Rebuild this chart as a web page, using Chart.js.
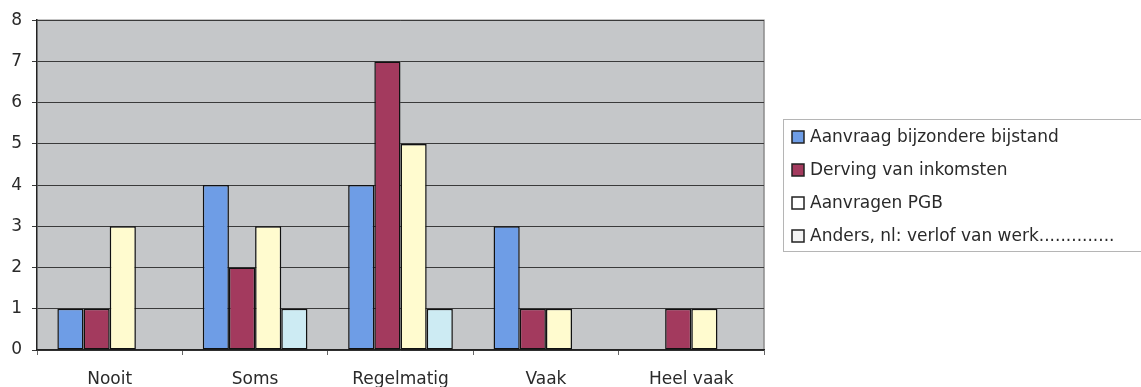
<!DOCTYPE html>
<html><head><meta charset="utf-8">
<script src="https://cdn.jsdelivr.net/npm/chart.js@4"></script>
<style>html,body{margin:0;padding:0;background:#fff;}#wrap{width:1141px;height:387px;position:relative;}</style>
</head><body><div id="wrap"><canvas id="c" width="1141" height="387"></canvas></div>
<script>
const categories = ["Nooit", "Soms", "Regelmatig", "Vaak", "Heel vaak"];
const seriesNames = ["Aanvraag bijzondere bijstand", "Derving van inkomsten", "Aanvragen PGB", "Anders, nl: verlof van werk.............."];
const bijstand = [1, 4, 4, 3, 0];
const derving = [1, 2, 7, 1, 1];
const pgb = [3, 3, 5, 1, 1];
const anders = [0, 1, 1, 0, 0];
const yTicks = [0, 1, 2, 3, 4, 5, 6, 7, 8];

const colors = ["#6e9de6", "#a33a5e", "#fffbcf", "#cdebf3"];
const legendFill = ["#6e9de6", "#a33a5e", "#ffffff", "#f4f4f4"];
const FONT = "'DejaVu Sans', sans-serif";

const bgPlugin = {
  id: 'bg',
  beforeDraw(chart) {
    const {ctx, chartArea: a} = chart;
    ctx.save();
    ctx.fillStyle = '#c5c7c9';
    ctx.fillRect(a.left, a.top, a.right - a.left, a.bottom - a.top);
    ctx.strokeStyle = '#8c8c8c';
    ctx.lineWidth = 1.5;
    ctx.beginPath();
    ctx.moveTo(a.left, a.top); ctx.lineTo(a.right, a.top); ctx.lineTo(a.right, a.bottom);
    ctx.stroke();
    ctx.restore();
  },
  afterDraw(chart) {
    const ctx = chart.ctx;
    const x0 = 783, y0 = 119, h = 132;
    ctx.save();
    ctx.fillStyle = '#ffffff';
    ctx.fillRect(x0, y0, 1141 - x0 + 5, h);
    ctx.strokeStyle = '#b5b5b5';
    ctx.lineWidth = 1;
    ctx.strokeRect(x0 + 0.5, y0 + 0.5, 1141 - x0 + 5, h);
    ctx.font = '17px ' + FONT;
    ctx.textBaseline = 'middle';
    chart.data.datasets.forEach((ds, i) => {
      const cy = 137 + i * 33;
      ctx.fillStyle = legendFill[i];
      ctx.fillRect(792, cy - 6, 12, 12);
      ctx.strokeStyle = '#222';
      ctx.lineWidth = 1.5;
      ctx.strokeRect(792, cy - 6, 12, 12);
      ctx.fillStyle = '#2a2a2a';
      ctx.fillText(ds.label, 810, cy + 1);
    });
    ctx.restore();
  }
};

const mk = (label, data, i) => ({
  label, data,
  backgroundColor: colors[i],
  borderColor: '#111',
  borderWidth: 1.5,
  borderSkipped: false,
  categoryPercentage: 0.72,
  barPercentage: 1.0
});

new Chart(document.getElementById('c'), {
  type: 'bar',
  data: {
    labels: categories,
    datasets: [
      mk(seriesNames[0], bijstand, 0),
      mk(seriesNames[1], derving, 1),
      mk(seriesNames[2], pgb, 2),
      mk(seriesNames[3], anders, 3)
    ]
  },
  plugins: [bgPlugin],
  options: {
    responsive: false,
    animation: false,
    events: [],
    layout: { padding: { top: 20, right: 377, bottom: 0, left: 0 } },
    plugins: { legend: { display: false }, tooltip: { enabled: false } },
    scales: {
      x: {
        grid: { display: true, drawOnChartArea: false, drawTicks: true, tickLength: 5, color: '#666', offset: true },
        border: { display: true, color: '#222', width: 1.5 },
        ticks: { font: { family: FONT, size: 17 }, color: '#2a2a2a', padding: 14 },
        afterFit(s) { s.height = 37; }
      },
      y: {
        min: 0, max: 8,
        afterBuildTicks(s) { s.ticks = yTicks.map(v => ({ value: v })); },
        grid: { color: '#3a3a3a', lineWidth: 1, tickLength: 5 },
        border: { display: true, color: '#222', width: 1.5 },
        ticks: { font: { family: FONT, size: 17 }, color: '#2a2a2a', padding: 10 },
        afterFit(s) { s.width = 37; }
      }
    }
  }
});
</script></body></html>
